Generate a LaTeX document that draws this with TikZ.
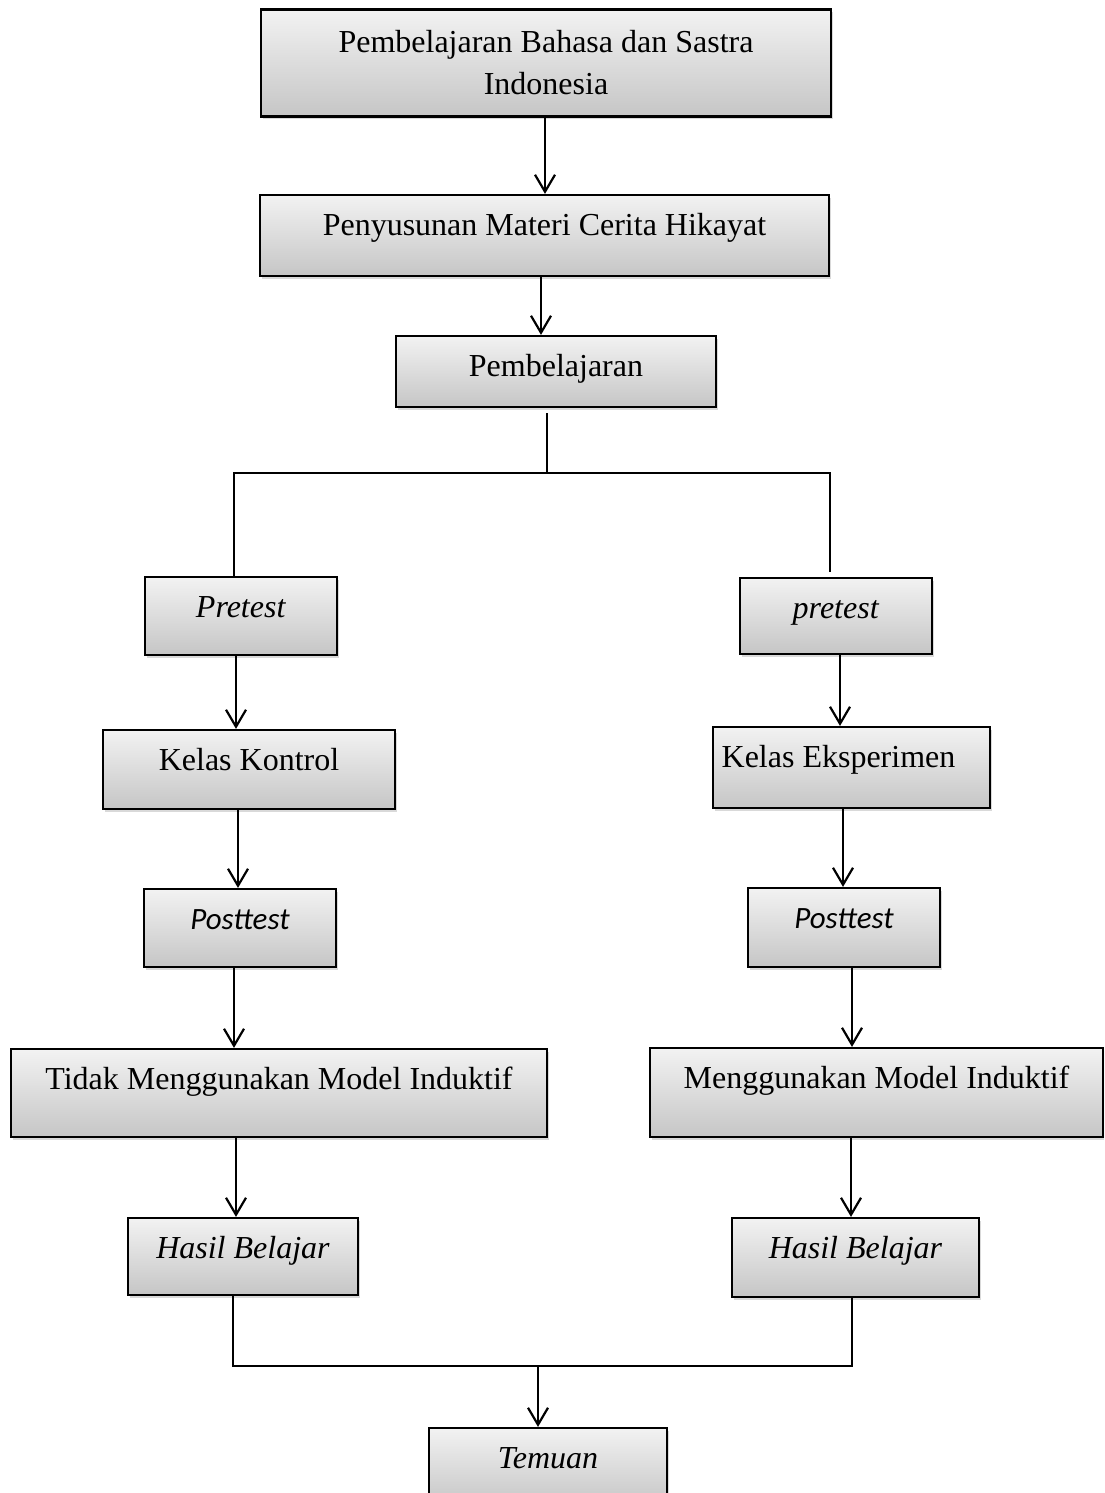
\documentclass[tikz,border=0pt]{standalone}
\usepackage{fontspec}
\setmainfont{Liberation Serif}
\newfontfamily\calibrifont{Carlito}
\usetikzlibrary{shadows,arrows.meta,calc}
\begin{document}
\begin{tikzpicture}[x=0.5pt,y=-0.5pt,
  box/.style={draw=black, line width=1.1pt, top color=gray!10, bottom color=gray!45,
    drop shadow={shadow xshift=1pt,shadow yshift=-1.5pt,opacity=0.3},
    inner sep=0pt, align=center, text height=11pt,
    font=\fontsize{16}{21}\selectfont},
  ln/.style={line width=1.1pt},
  arr/.style={line width=1.1pt, -{Straight Barb[length=8.5pt,width=10pt]}}]
\useasboundingbox (0,0) rectangle (1104,1493);
\clip (0,0) rectangle (1104,1493);

\node[box, minimum width=285pt, minimum height=53.5pt, text height=] (b1) at (546,63) {Pembelajaran Bahasa dan Sastra\\Indonesia};
\node[box, minimum width=284.5pt, minimum height=40.5pt, text depth=11.5pt] (b2) at (544.5,235.5) {Penyusunan Materi Cerita Hikayat};
\node[box, minimum width=160pt, minimum height=35.5pt, text depth=6.5pt] (b3) at (556,371.5) {Pembelajaran};

\node[box, minimum width=96pt, minimum height=39pt, text depth=10pt] (prel) at (241,616) {\textit{Pretest}};
\node[box, minimum width=96pt, minimum height=38pt, text depth=9pt] (prer) at (836,616) {\textit{pretest}};

\node[box, minimum width=146pt, minimum height=39.5pt, text depth=10.5pt] (kk) at (249,769.5) {Kelas Kontrol};
\node[box, minimum width=138.5pt, minimum height=40.5pt, text depth=11.5pt] (ke) at (851.5,767.5) {Kelas Eksperimen\hspace*{13pt}};

\node[box, minimum width=96pt, minimum height=39pt, text depth=10pt] (postl) at (240,928) {{\calibrifont\fontsize{15.5}{21}\selectfont\itshape Posttest}};
\node[box, minimum width=96pt, minimum height=39.5pt, text depth=10.5pt] (postr) at (844,927.5) {{\calibrifont\fontsize{15.5}{21}\selectfont\itshape Posttest}};

\node[box, minimum width=268pt, minimum height=44pt, text depth=15pt] (tidak) at (279,1093) {Tidak Menggunakan Model Induktif};
\node[box, minimum width=226.5pt, minimum height=44.5pt, text depth=15.5pt] (meng) at (876.5,1092.5) {Menggunakan Model Induktif};

\node[box, minimum width=115pt, minimum height=38.5pt, text depth=9.5pt] (hl) at (243,1256.5) {\textit{Hasil Belajar}};
\node[box, minimum width=123.5pt, minimum height=39.5pt, text depth=10.5pt] (hr) at (855.5,1257.5) {\textit{Hasil Belajar}};

\node[box, minimum width=119pt, minimum height=39pt, text depth=10pt] (tem) at (548,1467) {\textit{Temuan}};

% top chain
\draw[arr] ($(b1.south)+(-1,0)$) coordinate (a1) -- (a1 |- b2.north);
\draw[arr] ($(b2.south)+(-3.5,0)$) coordinate (a2) -- (a2 |- b3.north);

% split
\coordinate (s) at (547,473);
\draw[ln] ($(b3.south)+(-9,5)$) -- (s);
\path ($(prel.north)+(-7,0)$) coordinate (q1) ($(prer.north)+(-6,-5)$) coordinate (q2);
\draw[ln] (q1) -- (q1 |- s) -- (q2 |- s) -- (q2);

% left chain
\draw[arr] ($(prel.south)+(-5,0)$) coordinate (l1) -- (l1 |- kk.north);
\draw[arr] ($(kk.south)+(-11,0)$) coordinate (l2) -- (l2 |- postl.north);
\draw[arr] ($(postl.south)+(-6,0)$) coordinate (l3) -- (l3 |- tidak.north);
\draw[arr] ($(tidak.south)+(-43,0)$) coordinate (l4) -- (l4 |- hl.north);

% right chain
\draw[arr] ($(prer.south)+(4,0)$) coordinate (r1) -- (r1 |- ke.north);
\draw[arr] ($(ke.south)+(-8.5,0)$) coordinate (r2) -- (r2 |- postr.north);
\draw[arr] ($(postr.south)+(8,0)$) coordinate (r3) -- (r3 |- meng.north);
\draw[arr] ($(meng.south)+(-25.5,0)$) coordinate (r4) -- (r4 |- hr.north);

% merge
\coordinate (m) at (538,1366);
\path ($(hl.south)+(-10,0)$) coordinate (p1) ($(hr.south)+(-3.5,0)$) coordinate (p2);
\draw[ln] (p1) -- (p1 |- m) -- (p2 |- m) -- (p2);
\draw[arr] (m) -- (m |- tem.north);
\end{tikzpicture}
\end{document}
